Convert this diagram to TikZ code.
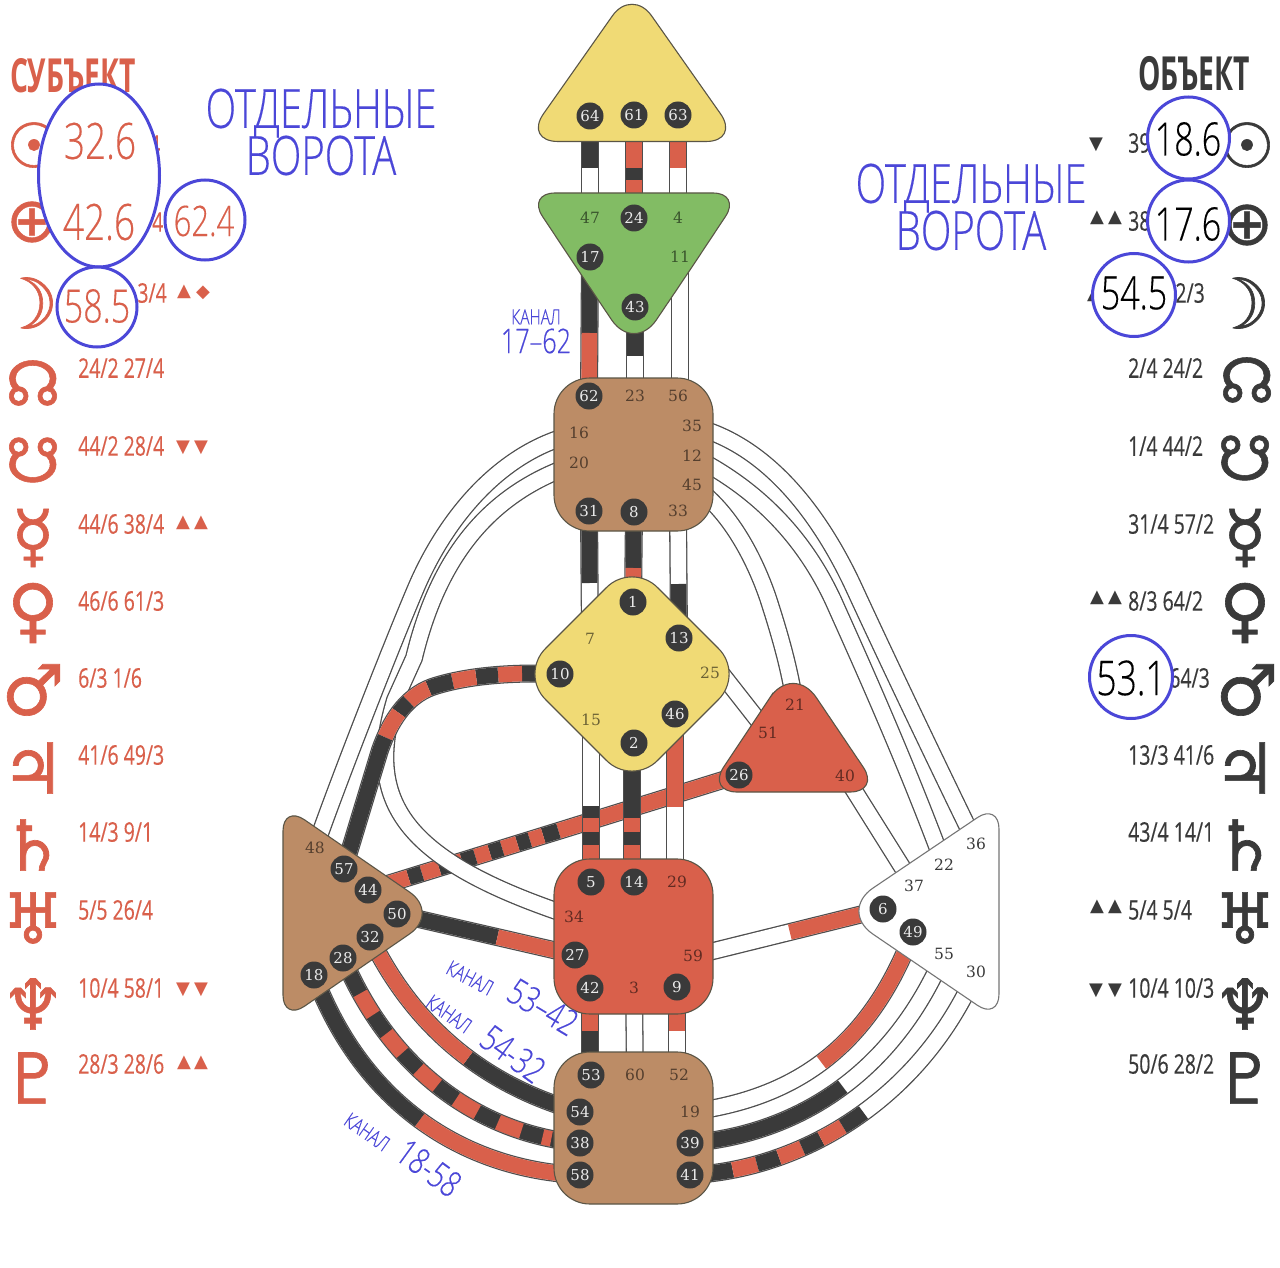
\documentclass[tikz,border=0pt]{standalone}
\usepackage{xcolor}
\usepackage{fontspec}
\setmainfont{DejaVu Serif}
\newfontfamily\handfont[FakeStretch=0.74,FakeBold=0.3]{Open Sans Light}
\newfontfamily\valfont[FakeStretch=0.72,FakeBold=0.3]{Open Sans}
\newfontfamily\headfont[FakeStretch=0.6]{Open Sans}
\newfontfamily\symfont{DejaVu Sans}
\newfontfamily\glyphfont[FakeBold=0.9]{DejaVu Sans}
\usetikzlibrary{backgrounds,calc}
\definecolor{deep}{RGB}{58,58,58}
\definecolor{softred}{RGB}{217,96,75}
\definecolor{headyellow}{RGB}{240,218,117}
\definecolor{ajnagreen}{RGB}{130,188,100}
\definecolor{bodybrown}{RGB}{188,140,102}
\definecolor{penblue}{RGB}{75,71,216}
\definecolor{edgegray}{RGB}{90,85,70}
\newcommand{\fsz}[1]{\fontsize{#1}{#1}\selectfont}
\newcommand{\chan}[2]{%
  \draw[chanout] #1;
  \draw[chanin] #1;
  \foreach \segc/\sega/\segl in {#2}{\draw[chanin,draw=\segc,dash pattern=on 0pt off \sega pt on \segl pt off 5000pt] #1;}}
\tikzset{
  hub/.style    ={draw=edgegray, line width=1.1pt, rounded corners=#1},
  gate/.style   ={circle, fill=deep, text=white!92!black, minimum size=27pt, inner sep=0pt, font=\fsz{15}},
  gtext/.style  ={inner sep=0pt, font=\fsz{15.5}, text=#1},
  chanout/.style={line width=18pt, draw=deep!90},
  chanin/.style ={line width=15.4pt, draw=white},
  val/.style    ={anchor=west, inner sep=0pt, font=\valfont\fsz{27}},
  planet/.style ={inner sep=0pt, font=\glyphfont\fsz{70}},
  nodeglyph/.style={inner sep=0pt, font=\glyphfont\fsz{62}},
  sign/.style   ={inner sep=0pt, font=\symfont\fsz{18}},
  ring/.style   ={draw=penblue, line width=3pt, fill=white},
  pen/.style    ={inner sep=0pt, font=\handfont\fsz{#1}},
  pen/.default  =48
}
\begin{document}
\begin{tikzpicture}[x=1pt,y=-1pt]
\useasboundingbox (0,0) rectangle (1280,1268);
% ---- Head and Ajna ----
\draw[hub=34pt, fill=headyellow] (632,-12) -- (740,141.5) -- (524,141.5) -- cycle;
\draw[hub=28pt, fill=ajnagreen] (634,193) -- (741,193) -- (688,273) [rounded corners=40pt] -- (634,353) -- (580,273) [rounded corners=28pt] -- (527,193) -- cycle;
\node[gate] (g64) at (590,116) {64};
\node[gate] (g61) at (634,115) {61};
\node[gate] (g63) at (678,115) {63};
\node[gtext=ajnagreen!45!black] (g47) at (590,218) {47};
\node[gate] (g24) at (634,218) {24};
\node[gtext=ajnagreen!45!black] (g4) at (678,218) {4};
\node[gate] (g17) at (590,257) {17};
\node[gtext=ajnagreen!45!black] (g11) at (680,257) {11};
\node[gate] (g43) at (635,307) {43};

% ---- Throat ----
\draw[hub=36pt, fill=bodybrown] (554,378) rectangle (713,531);
\node[gate] (g62) at (589,396) {62};
\node[gtext=bodybrown!45!black] (g23) at (635,396) {23};
\node[gtext=bodybrown!45!black] (g56) at (678,396) {56};
\node[gtext=bodybrown!45!black] (g16) at (579,433) {16};
\node[gtext=bodybrown!45!black] (g35) at (692,426) {35};
\node[gtext=bodybrown!45!black] (g20) at (579,463) {20};
\node[gtext=bodybrown!45!black] (g12) at (692,456) {12};
\node[gtext=bodybrown!45!black] (g45) at (692,485) {45};
\node[gate] (g31) at (589,511) {31};
\node[gate] (g8) at (634,512) {8};
\node[gtext=bodybrown!45!black] (g33) at (678,511) {33};

% ---- G ----
\draw[hub=36pt, fill=headyellow] (632,562) -- (744,674) -- (632,786) -- (520,674) -- cycle;
\node[gate] (g1) at (633,602) {1};
\node[gtext=headyellow!45!black] (g7) at (590,639) {7};
\node[gate] (g13) at (679,638) {13};
\node[gtext=headyellow!45!black] (g25) at (710,673) {25};
\node[gate] (g10) at (560,674) {10};
\node[gtext=headyellow!45!black] (g15) at (591,720) {15};
\node[gate] (g46) at (675,714) {46};
\node[gate] (g2) at (634,743) {2};

% ---- Heart ----
\draw[hub=30pt, fill=softred] (793,792) -- (880,792) -- (836.5,727.5) [rounded corners=42pt] -- (793,663) -- (750,727.5) [rounded corners=30pt] -- (707,792) -- cycle;
\node[gtext=softred!45!black] (g21) at (795,705) {21};
\node[gtext=softred!45!black] (g51) at (768,733) {51};
\node[gate] (g26) at (739,775) {26};
\node[gtext=softred!45!black] (g40) at (845,776) {40};

% ---- Spleen ----
\draw[hub=26pt, fill=bodybrown] (283,913) -- (283,805) -- (361.5,859) [rounded corners=37pt] -- (440,913) -- (361.5,967) [rounded corners=26pt] -- (283,1021) -- cycle;
\node[gtext=bodybrown!45!black] (g48) at (315,848) {48};
\node[gate] (g57) at (344,869) {57};
\node[gate] (g44) at (368,890) {44};
\node[gate] (g50) at (397,914) {50};
\node[gate] (g32) at (370,937) {32};
\node[gate] (g28) at (343,958) {28};
\node[gate] (g18) at (314,975) {18};

% ---- Sacral ----
\draw[hub=36pt, fill=softred] (554,859) rectangle (713,1014);
\node[gate] (g5) at (591,882) {5};
\node[gate] (g14) at (634,882) {14};
\node[gtext=softred!45!black] (g29) at (677,882) {29};
\node[gtext=softred!45!black] (g34) at (574,917) {34};
\node[gate] (g27) at (575,955) {27};
\node[gtext=softred!45!black] (g59) at (693,956) {59};
\node[gate] (g42) at (590,988) {42};
\node[gtext=softred!45!black] (g3) at (634,988) {3};
\node[gate] (g9) at (677,987) {9};

% ---- Solar plexus ----
\draw[hub=26pt, fill=white, draw=deep!70] (999,911) -- (999,1020) -- (919,965.5) [rounded corners=41pt] -- (839,911) -- (919,857) [rounded corners=26pt] -- (999,803) -- cycle;
\node[gtext=deep] (g36) at (976,844) {36};
\node[gtext=deep] (g22) at (944,865) {22};
\node[gtext=deep] (g37) at (914,886) {37};
\node[gate] (g6) at (883,909) {6};
\node[gate] (g49) at (913,932) {49};
\node[gtext=deep] (g55) at (944,954) {55};
\node[gtext=deep] (g30) at (976,972) {30};

% ---- Root ----
\draw[hub=36pt, fill=bodybrown] (554,1052) rectangle (713,1204);
\node[gate] (g53) at (591,1075) {53};
\node[gtext=bodybrown!45!black] (g60) at (635,1075) {60};
\node[gtext=bodybrown!45!black] (g52) at (679,1075) {52};
\node[gate] (g54) at (580,1112) {54};
\node[gtext=bodybrown!45!black] (g19) at (690,1112) {19};
\node[gate] (g38) at (580,1143) {38};
\node[gate] (g39) at (690,1143) {39};
\node[gate] (g58) at (580,1175) {58};
\node[gate] (g41) at (690,1175) {41};

% ---- Channels ----
\begin{scope}[on background layer]
\fill[white] (0,0) rectangle (1280,1268);
\chan{(g26.center) -- (g44.center)}{softred/0/189,deep/189/16,softred/205/14,deep/219/13,softred/232/16,deep/248/13,softred/261/15,deep/276/14,softred/290/10,deep/300/14,softred/314/18,deep/332/14,softred/346/60}
\chan{(g64.center) -- (g47.center)}{deep/0/52}
\chan{(g61.center) -- (g24.center)}{softred/0/53,deep/53/12,softred/65/40}
\chan{(g63.center) -- (g4.center)}{softred/0/53}
\chan{(g17.center) -- (g62.center)}{deep/0/76,softred/76/70}
\chan{(g43.center) -- (g23.center)}{deep/0/49}
\chan{(g11.center) -- (g11.center |- g56.center)}{none/0/1}
\chan{(g31.center) -- (g7.center)}{deep/0/72}
\chan{(g8.center) -- (g1.center)}{deep/0/56,softred/56/40}
\chan{(g33.center) -- (g13.center)}{deep/73/60}
\chan{(g15.center) -- (g5.center)}{deep/86/12,softred/98/14,deep/112/13,softred/125/40}
\chan{([xshift=-2pt]g2.center) -- ([xshift=-2pt]g14.center)}{deep/0/75,softred/75/14,deep/89/13,softred/102/40}
\chan{(g46.center) -- (g46.center |- g29.center)}{softred/0/93}
\chan{([yshift=14pt]g25.center) -- (g51.center)}{none/0/1}
\chan{(g16.center) .. controls (500,450) and (445,520) .. (416,588) .. controls (390,649) and (335,790) .. (g48.center)}{none/0/1}
\chan{(g20.center) .. controls (495,490) and (440,550) .. (414,658) -- (395,700) .. controls (365,800) and (400,860) .. (g34.center)}{none/0/1}
\chan{(g10.center) .. controls (510,672) and (465,676) .. (432,687) .. controls (405,697) and (390,722) .. (380,750) -- (g57.center)}{deep/0/38,softred/38/24,deep/62/22,softred/84/24,deep/108/25,softred/133/24,deep/157/15,softred/172/28,deep/200/200}
\chan{(g50.center) -- (g27.center)}{deep/0/103,softred/103/90}
\chan{(g35.center) .. controls (770,445) and (823,520) .. (855,590) .. controls (885,655) and (935,760) .. (g36.center)}{none/0/1}
\chan{(g12.center) .. controls (760,490) and (805,540) .. (833,600) .. controls (860,660) and (905,760) .. (g22.center)}{none/0/1}
\chan{(g45.center) .. controls (730,510) and (755,560) .. (768,598) .. controls (780,635) and (790,670) .. (g21.center)}{none/0/1}
\chan{(g40.center) -- (g37.center)}{none/0/1}
\chan{(g6.center) -- (g59.center)}{softred/0/96}
\chan{(g42.center) -- (g42.center |- g53.center)}{softred/0/43,deep/43/60}
\chan{(g3.center) -- (g60.center)}{none/0/1}
\chan{(g9.center) -- (g9.center |- g52.center)}{softred/0/44}
\chan{(g54.center) .. controls (500,1090) and (420,1040) .. (g32.center)}{deep/0/125,softred/125/200}
\chan{(g38.center) .. controls (490,1135) and (395,1080) .. (g28.center)}{deep/0/400,softred/29/9,softred/60/25,softred/108/25,softred/156/25,softred/204/25,softred/252/25,softred/300/25,softred/348/12}
\chan{(g58.center) .. controls (470,1170) and (365,1110) .. (g18.center)}{softred/0/172,deep/172/200}
\chan{(g19.center) .. controls (780,1100) and (865,1060) .. (g49.center)}{softred/142/200}
\chan{(g39.center) .. controls (790,1135) and (890,1080) .. (g55.center)}{deep/0/165}
\chan{(g41.center) .. controls (800,1170) and (920,1100) .. (g30.center)}{deep/0/43,softred/43/25,deep/68/23,softred/91/25,deep/116/21,softred/137/25,deep/162/25}
\end{scope}

% ---- Subject column ----
\node[font=\headfont\bfseries\fsz{47}, text=softred, inner sep=0pt] (subjhead) at (73,76) {СУБЪЕКТ};
\node[nodeglyph, text=softred] (lp1) at (34,145) {☉};
\node[nodeglyph, text=softred] (lp2) at (32,222) {⊕};
\node[planet, text=softred] (lp3) at (27,303) {☽};
\node[nodeglyph, text=softred] (lp4) at (33,383) {☊};
\node[nodeglyph, text=softred] (lp5) at (33,460) {☋};
\node[planet, text=softred] (lp6) at (33,538) {☿};
\node[planet, text=softred] (lp7) at (33,613) {♀};
\node[planet, text=softred] (lp8) at (33,690) {♂};
\node[planet, text=softred] (lp9) at (33,768) {♃};
\node[planet, text=softred] (lp10) at (33,845) {♄};
\node[planet, text=softred] (lp11) at (33,918) {♅};
\node[planet, text=softred] (lp12) at (33,1004) {♆};
\node[planet, text=softred] (lp13) at (33,1078) {♇};
\node[val, text=softred] (lv1) at (149,145) {4};
\node[val, text=softred] (lv2) at (152,222) {4};
\node[val, text=softred, anchor=east] (lv3) at (167,293) {3/4};
\node[val, text=softred] (lv4) at (78,368) {24/2 27/4};
\node[val, text=softred] (lv5) at (78,446) {44/2 28/4};
\node[val, text=softred] (lv6) at (78,524) {44/6 38/4};
\node[val, text=softred] (lv7) at (78,601) {46/6 61/3};
\node[val, text=softred] (lv8) at (78,678) {6/3 1/6};
\node[val, text=softred] (lv9) at (78,755) {41/6 49/3};
\node[val, text=softred] (lv10) at (78,832) {14/3 9/1};
\node[val, text=softred] (lv11) at (78,910) {5/5 26/4};
\node[val, text=softred] (lv12) at (78,988) {10/4 58/1};
\node[val, text=softred] (lv13) at (78,1064) {28/3 28/6};
\node[sign, text=softred] (lm1) at (184,292) {▲};
\node[sign, text=softred] (lm2) at (203,293) {◆};
\node[sign, text=softred] (lm3) at (183,448) {▼};
\node[sign, text=softred] (lm4) at (201,448) {▼};
\node[sign, text=softred] (lm5) at (183,523) {▲};
\node[sign, text=softred] (lm6) at (201,523) {▲};
\node[sign, text=softred] (lm7) at (183,990) {▼};
\node[sign, text=softred] (lm8) at (201,990) {▼};
\node[sign, text=softred] (lm9) at (184,1063) {▲};
\node[sign, text=softred] (lm10) at (201,1063) {▲};

% ---- Object column ----
\node[font=\headfont\bfseries\fsz{47}, text=deep, inner sep=0pt] (objhead) at (1194,74) {ОБЪЕКТ};
\node[nodeglyph, text=deep] (rp1) at (1247,145) {☉};
\node[nodeglyph, text=deep] (rp2) at (1247,225) {⊕};
\node[planet, text=deep] (rp3) at (1239,303) {☽};
\node[nodeglyph, text=deep] (rp4) at (1247,380) {☊};
\node[nodeglyph, text=deep] (rp5) at (1245,458) {☋};
\node[planet, text=deep] (rp6) at (1245,538) {☿};
\node[planet, text=deep] (rp7) at (1245,613) {♀};
\node[planet, text=deep] (rp8) at (1247,690) {♂};
\node[planet, text=deep] (rp9) at (1245,768) {♃};
\node[planet, text=deep] (rp10) at (1245,845) {♄};
\node[planet, text=deep] (rp11) at (1245,918) {♅};
\node[planet, text=deep] (rp12) at (1245,1004) {♆};
\node[planet, text=deep] (rp13) at (1245,1078) {♇};
\node[val, text=deep] (rv1) at (1128,143) {39};
\node[val, text=deep] (rv2) at (1128,221) {38};
\node[val, text=deep, anchor=east] (rv3) at (1205,293) {2/3};
\node[val, text=deep] (rv4) at (1128,368) {2/4 24/2};
\node[val, text=deep] (rv5) at (1128,446) {1/4 44/2};
\node[val, text=deep] (rv6) at (1128,524) {31/4 57/2};
\node[val, text=deep] (rv7) at (1128,601) {8/3 64/2};
\node[val, text=deep, anchor=east] (rv8) at (1210,678) {64/3};
\node[val, text=deep] (rv9) at (1128,755) {13/3 41/6};
\node[val, text=deep] (rv10) at (1128,832) {43/4 14/1};
\node[val, text=deep] (rv11) at (1128,910) {5/4 5/4};
\node[val, text=deep] (rv12) at (1128,988) {10/4 10/3};
\node[val, text=deep] (rv13) at (1128,1064) {50/6 28/2};
\node[sign, text=deep] (rm1) at (1096,145) {▼};
\node[sign, text=deep] (rm2) at (1097,218) {▲};
\node[sign, text=deep] (rm3) at (1115,218) {▲};
\node[sign, text=deep] (rm4) at (1094,295) {▲};
\node[sign, text=deep] (rm5) at (1097,598) {▲};
\node[sign, text=deep] (rm6) at (1115,598) {▲};
\node[sign, text=deep] (rm7) at (1097,907) {▲};
\node[sign, text=deep] (rm8) at (1115,907) {▲};
\node[sign, text=deep] (rm9) at (1096,991) {▼};
\node[sign, text=deep] (rm10) at (1115,991) {▼};

% ---- Rings ----
\draw[ring] (99,175.5) ellipse (60.5pt and 91.5pt);
\draw[ring] (205,220) circle (40pt);
\draw[ring] (97,307) circle (40pt);
\draw[ring] (1188.5,138) circle (41pt);
\draw[ring] (1188.5,221) circle (41pt);
\draw[ring] (1134,295) circle (41.5pt);
\draw[ring] (1131,677) circle (41.5pt);
\node[pen=50, text=softred] (n326) at (100,141) {32.6};
\node[pen=50, text=softred] (n426) at (99,222) {42.6};
\node[pen=42, text=softred] (n624) at (204,221) {62.4};
\node[pen=46, text=softred] (n585) at (97,306) {58.5};
\node[pen=46, text=black] (n186) at (1188,139) {18.6};
\node[pen=46, text=black] (n176) at (1188,224) {17.6};
\node[pen=46, text=black] (n545) at (1134,293) {54.5};
\node[pen=48, text=black] (n531) at (1131,678) {53.1};

% ---- Blue notes ----
\node[pen=54, text=penblue, align=center] (noteleft) at (321,132) {ОТДЕЛЬНЫЕ\\[-7pt]ВОРОТА};
\node[pen=54, text=penblue, align=center] (noteright) at (971,207) {ОТДЕЛЬНЫЕ\\[-7pt]ВОРОТА};
\node[pen=21, text=penblue] (cn1) at (536,317) {КАНАЛ};
\node[pen=34, text=penblue] (cv1) at (536,341) {17–62};
\node[pen=21, text=penblue, rotate=-28] (cn2) at (470,978) {КАНАЛ};
\node[pen=36, text=penblue, rotate=-31] (cv2) at (543,1007) {53–42};
\node[pen=21, text=penblue, rotate=-35] (cn3) at (449,1014) {КАНАЛ};
\node[pen=36, text=penblue, rotate=-36] (cv3) at (513,1054) {54-32};
\node[pen=21, text=penblue, rotate=-35] (cn4) at (367,1132) {КАНАЛ};
\node[pen=36, text=penblue, rotate=-36] (cv4) at (429,1168) {18-58};
\end{tikzpicture}
\end{document}
